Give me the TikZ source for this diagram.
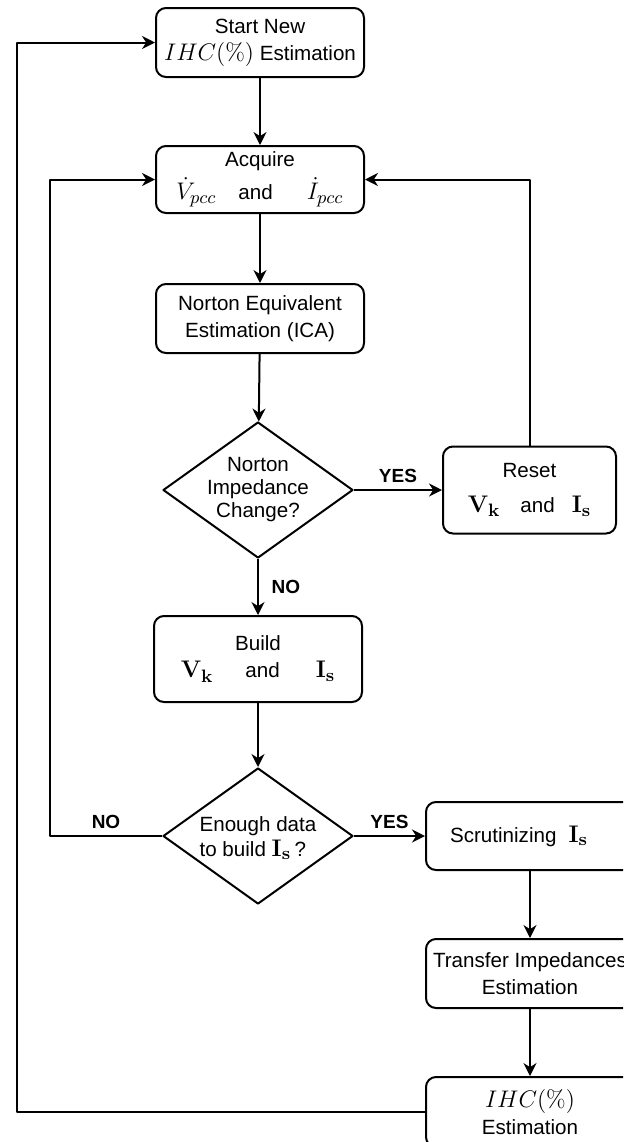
\documentclass[tikz,border=0pt]{standalone}
\usepackage[no-math]{fontspec}
\setsansfont{Liberation Sans}
\usetikzlibrary{shapes.geometric,arrows.meta}
\newcommand{\mth}[1]{{\fontsize{12.5}{14}\selectfont$#1$}}
\begin{document}
\begin{tikzpicture}[>={Stealth[length=6.5pt,width=6.5pt]}, line join=round,
	x=.5pt, y=-.5pt, line width=1pt,
	font=\sffamily\fontsize{10.3}{13.5}\selectfont,
	box/.style={draw, rounded corners=5pt, align=center, inner sep=0pt, minimum width=104pt},
	dec/.style={draw, diamond, inner sep=0pt, minimum width=95pt, minimum height=68pt},
	dectext/.style={align=center, font=\sffamily\fontsize{10.3}{11.5}\selectfont},
	lbl/.style={font=\sffamily\bfseries\fontsize{9.5}{11}\selectfont}]
	\useasboundingbox (0,0) rectangle (623,1142);
	\clip (0,0) rectangle (623,1142);
	% khoi chinh
	\node[box, minimum height=34.5pt] (start) at (260,42.5) {Start New\\\mth{IHC(\%)} Estimation};
	\node[box, minimum height=33.5pt] (acq) at (260,179.5) {Acquire\\[3pt]\mth{\dot{V}_{pcc}}\hspace{11pt}and\hspace{17pt}\mth{\dot{I}_{pcc}}};
	\node[box, minimum height=34.5pt] (norton) at (260,318.5) {Norton Equivalent\\Estimation (ICA)};
	\node[dec] (d1) at (258,490) {};
	\node[dectext] (d1t) at (d1) {Norton\\Impedance\\Change?};
	\node[box, minimum width=86.5pt, minimum height=43.5pt] (reset) at (529.5,490) {Reset\\[4pt]\mth{\mathbf{V_k}}\hspace{10pt}and\hspace{8.5pt}\mth{\mathbf{I_s}}};
	\node[box, minimum height=43pt] (build) at (258,659) {Build\\[0pt]\mth{\mathbf{V_k}}\hspace{16pt}and\hspace{18pt}\mth{\mathbf{I_s}}};
	\node[dec] (d2) at (258,836) {};
	\node[dectext, align=left, font=\sffamily\fontsize{10.3}{12.5}\selectfont] (d2t) at (258,838) {Enough data\\to build \mth{\mathbf{I_s}}\,?};
	\node[box, minimum height=34pt] (scr) at (530,836) {Scrutinizing\hspace{6pt}\mth{\mathbf{I_s}}\hspace{11pt}};
	\node[box, minimum height=34.5pt] (tie) at (530,973.5) {Transfer Impedances\\Estimation};
	\node[box, minimum height=35pt] (ihc) at (530,1112) {\mth{IHC(\%)}\\Estimation};
	\coordinate (nol) at (50,836);
	\coordinate (ret) at (17,1112);
	% mui ten
	\draw[->] (start) -- (acq);
	\draw[->] (acq) -- (norton);
	\draw[->] (norton) -- (d1);
	\draw[->] (d1) -- node[lbl, above]{YES} (reset);
	\draw[->] (d1) -- node[lbl, right=3pt]{NO} (build);
	\draw[->] (reset.north) |- (acq.east);
	\draw[->] (build) -- (d2);
	\draw[->] (d2) -- node[lbl, above]{YES} (scr);
	\draw[->] (d2.west) -- node[lbl, above]{NO} (nol) |- (acq.west);
	\draw[->] (scr) -- (tie);
	\draw[->] (tie) -- (ihc);
	\draw[->] (ihc.west) -- (ret) |- (start.west);
\end{tikzpicture}
\end{document}
